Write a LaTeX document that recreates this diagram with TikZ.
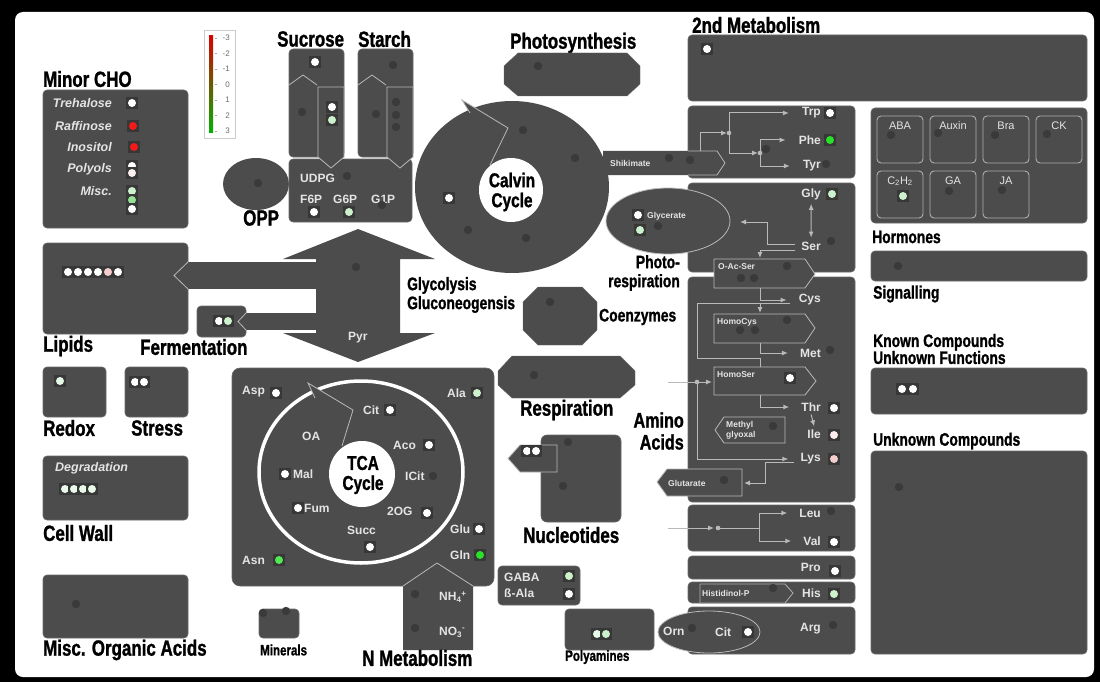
\documentclass[tikz,border=0pt]{standalone}
\usepackage{fontspec}
\setmainfont{Liberation Sans}
\newfontfamily\headfont[FakeStretch=0.77, BoldFeatures={FakeBold=1.2}]{Liberation Sans}
\usetikzlibrary{arrows.meta}

\definecolor{boxgray}{RGB}{76,76,76}
\definecolor{edgegray}{RGB}{105,105,105}
\definecolor{dotgray}{RGB}{58,58,58}
\definecolor{dotbg}{RGB}{55,55,55}
\definecolor{labgray}{RGB}{228,228,228}
\definecolor{linegray}{RGB}{185,185,185}
\definecolor{hormline}{RGB}{175,175,175}
\definecolor{vwhite}{RGB}{255,255,255}
\definecolor{vgreen}{RGB}{40,225,40}
\definecolor{vmgreen}{RGB}{150,225,150}
\definecolor{vlgreen}{RGB}{205,240,205}
\definecolor{vred}{RGB}{245,25,25}
\definecolor{vpink}{RGB}{245,205,205}

% dots: plain marker and value marker on its dark square
\newcommand{\plaindot}[2]{\fill[dotgray] (#1,#2) circle (4.2);}
\newcommand{\valdot}[3]{\fill[dotbg] ({#1-6},{#2-6}) rectangle ({#1+6},{#2+6}); \fill[#3] (#1,#2) circle (4);}

\begin{document}
\begin{tikzpicture}[x=1pt, y=-1pt,
    area/.style={fill=boxgray, draw=edgegray, line width=0.6pt, rounded corners=4pt},
    plate/.style={fill=boxgray, draw=linegray, line width=0.8pt},
    sub/.style={draw=hormline, line width=0.9pt, rounded corners=4pt},
    head/.style={anchor=west, inner sep=0pt, font=\headfont\bfseries\fontsize{22}{23}\selectfont},
    midhead/.style={head, font=\headfont\bfseries\fontsize{18}{19}\selectfont},
    smallhead/.style={head, font=\headfont\bfseries\fontsize{15}{15}\selectfont},
    lab/.style={anchor=west, inner sep=0pt, text=labgray, font=\bfseries\fontsize{12}{12}\selectfont},
    aa/.style={lab, anchor=east},
    tiny/.style={anchor=west, inner sep=0pt, text=labgray, font=\bfseries\fontsize{8.5}{10}\selectfont},
    cho/.style={anchor=east, inner sep=0pt, text=labgray, font=\bfseries\itshape\fontsize{12.5}{13}\selectfont},
    horm/.style={inner sep=0pt, text=labgray, font=\fontsize{11}{11}\selectfont},
    scalelab/.style={anchor=east, inner sep=0pt, text=gray!85!black, font=\fontsize{8}{8}\selectfont},
    flow/.style={draw=linegray, line width=1pt, -{Latex[length=6pt,width=5pt]}},
    wire/.style={draw=linegray, line width=1pt}]

  % frame
  \fill[black] (0,0) rectangle (1100,682);
  \fill[white, rounded corners=8pt] (15,12) rectangle (1094,677);

  % colour scale
  \draw[gray!40, fill=white] (204,30) rectangle (235,138);
  \shade[top color=red!85!black, middle color=white, bottom color=green!70!black] (209,36) rectangle (213,133);
  \foreach \v [count=\i from 0] in {-3,-2,-1,0,1,2,3}{
    \draw[gray!70] (214.5,{38+15.5*\i}) -- (217,{38+15.5*\i});
    \node[scalelab] (scale\i) at (230,{38+15.5*\i}) {\v};
  }

  % Minor CHO
  \node[head] (minorcho) at (43,79) {Minor CHO};
  \draw[area] (43,90) rectangle (188,228);
  \node[cho] (treh) at (112,103) {Trehalose};
  \node[cho] (raff) at (112,126) {Raffinose};
  \node[cho] (inos) at (112,147) {Inositol};
  \node[cho] (polyol) at (112,169) {Polyols};
  \node[cho] (miscc) at (112,191) {Misc.};
  \valdot{132}{103}{vwhite}
  \valdot{133}{126}{vred}
  \valdot{134}{147}{vred}
  \valdot{132}{166}{vwhite}
  \valdot{132}{173}{vpink!30}
  \valdot{132}{191}{vlgreen}
  \valdot{132}{200}{vmgreen}
  \valdot{132}{209}{vwhite}

  % OPP
  \fill[boxgray] (256,184) ellipse (33 and 26);
  \plaindot{258}{183}
  \node[head] (opp) at (243,218) {OPP};

  % Sucrose and Starch
  \node[head] (sucrose) at (277,39) {Sucrose};
  \node[head] (starch) at (358,39) {Starch};
  \draw[area] (289,159) rectangle (412,222);
  \foreach \ox in {0,69}{
    \draw[area] (289+\ox,49) rectangle (344+\ox,157);
    \draw[wire, line width=0.8pt] (289+\ox,85) -- (303+\ox,75) -- (317+\ox,85);
    \filldraw[plate] (318+\ox,87) -- (344+\ox,87) -- (344+\ox,157) -- (331+\ox,168) -- (318+\ox,157) -- cycle;
  }
  \node[lab] (udpg) at (300,178) {UDPG};
  \node[lab] (f6p) at (300,199) {F6P};
  \node[lab] (g6p) at (333,199) {G6P};
  \node[lab] (g1p) at (371,199) {G1P};
  \valdot{315}{62}{vwhite}
  \plaindot{302}{112}
  \valdot{332}{107}{vwhite}
  \valdot{332}{120}{vlgreen}
  \plaindot{393}{65}
  \plaindot{376}{114}
  \plaindot{396}{102}
  \plaindot{396}{115}
  \plaindot{396}{127}
  \plaindot{347}{176}
  \plaindot{382}{205}
  \valdot{314}{212}{vwhite}
  \valdot{349}{212}{vlgreen}

  % Photosynthesis
  \node[head] (photosyn) at (510,43) {Photosynthesis};
  \draw[fill=boxgray, draw=edgegray] (518,53) -- (627,53) -- (640,66) -- (640,84) -- (627,96) -- (518,96) -- (504,84) -- (504,66) -- cycle;
  \plaindot{538}{66}

  % right hand boxes
  \node[head] (secmet) at (692,25) {2nd Metabolism};
  \draw[area] (688,35) rectangle (1087,101);
  \valdot{707}{49}{vwhite}
  \draw[area] (688,106) rectangle (855,178);
  \draw[area] (688,183) rectangle (855,272);
  \draw[area] (688,277) rectangle (855,502);
  \draw[area] (688,505) rectangle (855,551);
  \draw[area] (688,556) rectangle (855,579);
  \draw[area] (688,582) rectangle (855,603);
  \draw[area] (688,607) rectangle (855,654);

  % Calvin cycle
  \fill[boxgray] (512,187) ellipse (97 and 86);
  \filldraw[fill=boxgray, draw=linegray, line width=0.8pt] (470,113) -- (462,100) -- (508,128) -- (490,165);
  \fill[white] (511,190) circle (32);
  \node[head, anchor=center, align=center, font=\headfont\bfseries\fontsize{20}{20}\selectfont] (calvin) at (512,192) {Calvin\\Cycle};
  \valdot{449}{198}{vwhite}
  \plaindot{523}{130}
  \plaindot{575}{158}
  \plaindot{468}{230}
  \plaindot{526}{238}

  % Shikimate and aromatic amino acids
  \fill[boxgray] (603,151) -- (717,151) -- (725,163) -- (717,175) -- (603,175) -- cycle;
  \draw[wire, line width=0.8pt] (688,151) -- (717,151) -- (725,163) -- (717,175) -- (688,175);
  \node[tiny] (shik) at (610,163) {Shikimate};
  \plaindot{669}{158}
  \plaindot{690}{160}
  \node[aa] (trp) at (821,113) {Trp};
  \node[aa] (phe) at (821,140) {Phe};
  \node[aa] (tyr) at (821,166) {Tyr};
  \coordinate (shkout) at (700,151);
  \coordinate (arA) at (729,133);
  \coordinate (arB) at (760,153);
  \draw[flow] (shkout) |- ([xshift=-2pt]arA);
  \draw[flow] (arA) |- ([xshift=-13pt]trp.west);
  \draw[flow] (arA) |- ([xshift=-2pt]arB);
  \draw[flow] (arB) |- ([xshift=-13pt]phe.west);
  \draw[flow] (arB) |- ([xshift=-13pt]tyr.west);
  \fill[linegray] (arA) circle (2.3);
  \fill[linegray] (arB) circle (2.3);
  \plaindot{766}{149}
  \valdot{830}{113}{vwhite}
  \valdot{830}{140}{vgreen}
  \plaindot{826}{164}

  % Photorespiration
  \filldraw[fill=boxgray, draw=linegray, line width=0.8pt] (668,221) ellipse (62 and 33);
  \node[tiny] (glycerate) at (647,216) {Glycerate};
  \valdot{638}{215}{vwhite}
  \valdot{640}{230}{vlgreen}
  \plaindot{658}{226}
  \node[midhead, anchor=east, align=right, font=\headfont\bfseries\fontsize{18}{19}\selectfont] (photoresp) at (680,273) {Photo-\\respiration};

  % Gly / Ser
  \node[aa] (gly) at (821,194) {Gly};
  \node[aa] (ser) at (821,246) {Ser};
  \valdot{832}{194}{vlgreen}
  \plaindot{831}{241}
  \draw[flow, {Latex[length=6pt,width=5pt]}-{Latex[length=6pt,width=5pt]}] ([yshift=-4pt]gly.south) -- ([yshift=4pt]ser.north);
  \coordinate (serup) at (767,222);
  \coordinate (serdown) at (760,250);
  \draw[flow] ([xshift=-6pt,yshift=2pt]ser.west) -| (serup) -- ++(-27,0);
  \draw[flow] ([xshift=-6pt,yshift=-4pt]ser.west) -- (serdown) -- ++(0,8);

  % sulphur amino acids
  \filldraw[plate] (714,259) -- (805,259) -- (815,274) -- (805,288) -- (714,288) -- cycle;
  \node[tiny] (oacser) at (718,267) {O-Ac-Ser};
  \plaindot{787}{266}
  \plaindot{741}{278}
  \plaindot{754}{278}
  \filldraw[plate] (714,314) -- (805,314) -- (815,328) -- (805,343) -- (714,343) -- cycle;
  \node[tiny] (homocys) at (717,322) {HomoCys};
  \plaindot{787}{320}
  \plaindot{740}{330}
  \plaindot{755}{330}
  \filldraw[plate] (714,367) -- (805,367) -- (816,381) -- (805,395) -- (714,395) -- cycle;
  \node[tiny] (homoser) at (717,375) {HomoSer};
  \valdot{790}{378}{vwhite}
  \node[aa] (cys) at (821,300) {Cys};
  \node[aa] (met) at (821,353) {Met};
  \node[aa] (thr) at (821,407) {Thr};
  \node[aa] (ile) at (821,434) {Ile};
  \node[aa] (lys) at (821,459) {Lys};
  \draw[flow] (760,288) |- ([xshift=-12pt]cys.west);
  \draw[wire] (790,303) -- (697,303) -- (697,358) -- (760,358) -- (760,367);
  \draw[flow] (760,303) -- (760,313);
  \draw[flow] (760,343) |- ([xshift=-12pt]met.west);
  \coordinate (hsin) at (697,382);
  \draw[flow] (668,382) -- (712,382);
  \fill[linegray] (hsin) circle (2.3);
  \draw[flow] (hsin) |- ([xshift=-12pt]lys.west);
  \draw[flow] (760,395) |- ([xshift=-12pt]thr.west);
  \draw[flow] ([yshift=-3pt]thr.south) -- ([yshift=3pt]ile.north);
  \plaindot{830}{350}
  \valdot{834}{408}{vwhite}
  \valdot{834}{435}{vpink!35}
  \valdot{834}{459}{vpink}

  % Methylglyoxal and Glutarate
  \filldraw[plate] (785,417) -- (724,417) -- (715,430) -- (724,443) -- (785,443) -- cycle;
  \node[tiny, align=left] (methyl) at (726,430) {Methyl\\glyoxal};
  \plaindot{773}{426}
  \filldraw[plate] (742,469) -- (667,469) -- (657,482) -- (667,496) -- (742,496) -- cycle;
  \node[tiny] (glutarate) at (668,483) {Glutarate};
  \plaindot{724}{480}
  \draw[flow] ([xshift=-6pt,yshift=-3pt]lys.west) -| (765,483) -- (744,483);
  \node[head, anchor=east, align=right, font=\headfont\bfseries\fontsize{21}{22}\selectfont] (amino) at (684,431) {Amino\\Acids};

  % branched chain and others
  \node[aa] (leu) at (821,513) {Leu};
  \node[aa] (val) at (821,541) {Val};
  \coordinate (bcin) at (718,528);
  \coordinate (bcfork) at (759,528);
  \draw[flow] (668,528) -- (714,528);
  \draw[wire] (bcin) -- (bcfork);
  \fill[linegray] (bcin) circle (2.3);
  \draw[flow] (bcfork) |- ([xshift=-12pt]leu.west);
  \draw[flow] (bcfork) |- ([xshift=-12pt]val.west);
  \plaindot{831}{511}
  \valdot{834}{542}{vwhite}
  \node[aa] (pro) at (821,567) {Pro};
  \valdot{835}{571}{vwhite}
  \filldraw[draw=hormline, fill=boxgray, line width=0.8pt] (700,584) -- (785,584) -- (793,593) -- (785,603) -- (700,603) -- cycle;
  \node[tiny] (histp) at (702,593) {Histidinol-P};
  \plaindot{773}{588}
  \node[aa] (his) at (821,593) {His};
  \valdot{834}{594}{vlgreen}
  \filldraw[fill=boxgray, draw=linegray, line width=0.8pt] (709,632) ellipse (51 and 21);
  \node[lab] (orn) at (663,631) {Orn};
  \node[lab] (cit2) at (715,632) {Cit};
  \plaindot{692}{628}
  \valdot{748}{632}{vwhite}
  \node[aa] (arg) at (821,629) {Arg};
  \plaindot{833}{625}

  % Hormones
  \draw[area] (871,108) rectangle (1087,223);
  \foreach \x/\t/\n in {877/ABA/aba, 930/Auxin/aux, 983/Bra/bra, 1036/CK/ck}{
    \draw[sub] (\x,116) rectangle (\x+46,163);
    \node[horm] (\n) at (\x+23,126) {\t};
  }
  \foreach \x/\t/\n in {877/C\textsubscript{2}H\textsubscript{2}/ethyl, 930/GA/ga, 983/JA/ja}{
    \draw[sub] (\x,171) rectangle (\x+46,218);
    \node[horm] (\n) at (\x+23,181) {\t};
  }
  \plaindot{891}{135}
  \plaindot{938}{133}
  \plaindot{995}{135}
  \plaindot{1047}{134}
  \valdot{903}{196}{vlgreen}
  \plaindot{949}{191}
  \plaindot{1002}{190}
  \node[midhead] (hormones) at (872,237) {Hormones};

  % Signalling and unknowns
  \draw[area] (871,251) rectangle (1087,281);
  \plaindot{898}{266}
  \node[midhead] (signal) at (873,294) {Signalling};
  \node[midhead, align=left, font=\headfont\bfseries\fontsize{18}{17}\selectfont] (known) at (873,349) {Known Compounds\\Unknown Functions};
  \draw[area] (871,368) rectangle (1087,414);
  \valdot{902}{389}{vwhite}
  \valdot{913}{389}{vwhite}
  \node[midhead] (unknown) at (873,441) {Unknown Compounds};
  \draw[area] (871,451) rectangle (1087,654);
  \plaindot{899}{487}

  % Glycolysis, lipids, fermentation
  \fill[boxgray] (358,229) -- (435,259) -- (400,259) -- (400,333) -- (435,333) -- (358,362) -- (283,333) -- (316,333) -- (316,259) -- (283,259) -- cycle;
  \plaindot{356}{267}
  \node[lab] (pyr) at (348,338) {Pyr};
  \node[midhead, align=left] (glyco) at (407,295) {Glycolysis\\Gluconeogensis};
  \draw[area] (43,243) rectangle (188,334);
  \fill[boxgray] (187,262) rectangle (317,289);
  \draw[wire, line width=0.8pt] (188,262) -- (174,275.5) -- (188,289);
  \foreach \x/\c in {68/vwhite, 78/vwhite, 88/vwhite, 98/vwhite, 108/vpink, 118/vwhite}{
    \valdot{\x}{272}{\c}
  }
  \node[head] (lipids) at (43,346) {Lipids};
  \draw[area] (197,306) rectangle (246,337);
  \fill[boxgray] (245,313) rectangle (317,330);
  \draw[wire, line width=0.8pt] (246,313) -- (238,321.5) -- (246,330);
  \valdot{219}{321}{vwhite}
  \valdot{228}{321}{vlgreen}
  \node[head] (ferment) at (140,347) {Fermentation};

  % Coenzymes, Respiration
  \draw[fill=boxgray, draw=edgegray] (538,287) -- (582,287) -- (597,302) -- (597,330) -- (582,345) -- (538,345) -- (523,330) -- (523,302) -- cycle;
  \plaindot{550}{302}
  \node[midhead] (coenz) at (599,317) {Coenzymes};
  \draw[fill=boxgray, draw=edgegray] (512,356) -- (620,356) -- (635,371) -- (635,385) -- (620,398) -- (512,398) -- (498,385) -- (498,371) -- cycle;
  \plaindot{534}{375}
  \node[head] (resp) at (520,410) {Respiration};

  % Redox, Stress, Cell wall, Misc
  \draw[area] (43,367) rectangle (106,417);
  \valdot{60}{381}{vlgreen!50}
  \node[head] (redox) at (43,428) {Redox};
  \draw[area] (125,367) rectangle (188,417);
  \valdot{135}{382}{vwhite}
  \valdot{144}{382}{vwhite}
  \node[head] (stress) at (131,428) {Stress};
  \draw[area] (43,456) rectangle (188,520);
  \node[cho, anchor=west] (degrad) at (55,468) {Degradation};
  \foreach \x in {65,74,83,92}{
    \valdot{\x}{489}{vlgreen!45}
  }
  \node[head] (cellwall) at (43,533) {Cell Wall};
  \draw[area] (43,575) rectangle (188,638);
  \plaindot{76}{604}
  \node[head] (miscoa) at (43,650) {Misc. Organic Acids};
  \draw[area] (259,609) rectangle (299,638);
  \plaindot{263}{613}
  \plaindot{286}{611}
  \node[smallhead] (minerals) at (260,650) {Minerals};

  % TCA cycle
  \draw[area, rounded corners=8pt] (232,368) rectangle (494,586);
  \draw[white, line width=3.5pt] (361,472) ellipse (102 and 91);
  \filldraw[fill=boxgray, draw=linegray, line width=0.8pt] (315,398) -- (308,383) -- (353,410) -- (342,446);
  \fill[white] (362,474) circle (33);
  \node[head, anchor=center, align=center, font=\headfont\bfseries\fontsize{20}{20}\selectfont] (tca) at (363,475) {TCA\\Cycle};
  \node[lab] (asp) at (242,392) {Asp};
  \node[lab] (cit) at (363,410) {Cit};
  \node[lab] (ala) at (447,393) {Ala};
  \node[lab] (oa) at (302,436) {OA};
  \node[lab] (aco) at (393,445) {Aco};
  \node[lab] (mal) at (293,474) {Mal};
  \node[lab] (icit) at (405,476) {ICit};
  \node[lab] (fum) at (304,508) {Fum};
  \node[lab] (og) at (387,511) {2OG};
  \node[lab] (succ) at (347,530) {Succ};
  \node[lab] (glu) at (450,529) {Glu};
  \node[lab] (gln) at (450,555) {Gln};
  \node[lab] (asn) at (242,560) {Asn};
  \valdot{276}{393}{vwhite}
  \valdot{390}{410}{vwhite}
  \valdot{477}{393}{vlgreen}
  \valdot{429}{445}{vwhite}
  \valdot{285}{474}{vwhite}
  \plaindot{433}{476}
  \valdot{298}{508}{vwhite}
  \valdot{427}{513}{vwhite}
  \valdot{370}{547}{vwhite}
  \valdot{479}{529}{vwhite}
  \valdot{480}{555}{vgreen}
  \valdot{279}{560}{vgreen!80!white}

  % N metabolism
  \fill[boxgray] (403,585) -- (437,563) -- (473,585) -- (473,650) -- (403,650) -- cycle;
  \draw[wire, line width=0.8pt] (403,586) -- (437,563) -- (473,586);
  \node[lab] (nh4) at (439,597) {NH\textsubscript{4}\textsuperscript{+}};
  \node[lab] (no3) at (439,632) {NO\textsubscript{3}\textsuperscript{-}};
  \plaindot{415}{594}
  \plaindot{415}{628}
  \node[head] (nmet) at (362,658) {N Metabolism};

  % GABA, polyamines, nucleotides
  \draw[area] (498,566) rectangle (580,605);
  \node[lab] (gaba) at (504,577) {GABA};
  \node[lab] (bala) at (504,593) {ß-Ala};
  \valdot{569}{576}{vlgreen}
  \valdot{569}{594}{vwhite}
  \draw[area] (565,609) rectangle (654,650);
  \valdot{597}{634}{vlgreen!50}
  \valdot{606}{634}{vlgreen}
  \node[smallhead] (polyam) at (565,657) {Polyamines};
  \draw[area, rounded corners=6pt] (541,435) rectangle (621,522);
  \filldraw[plate] (557,445) -- (520,445) -- (508,458.5) -- (520,472) -- (557,472) -- cycle;
  \valdot{527}{451}{vwhite}
  \valdot{536}{451}{vwhite}
  \plaindot{568}{442}
  \plaindot{563}{486}
  \node[head] (nucleo) at (523,535) {Nucleotides};
\end{tikzpicture}
\end{document}
